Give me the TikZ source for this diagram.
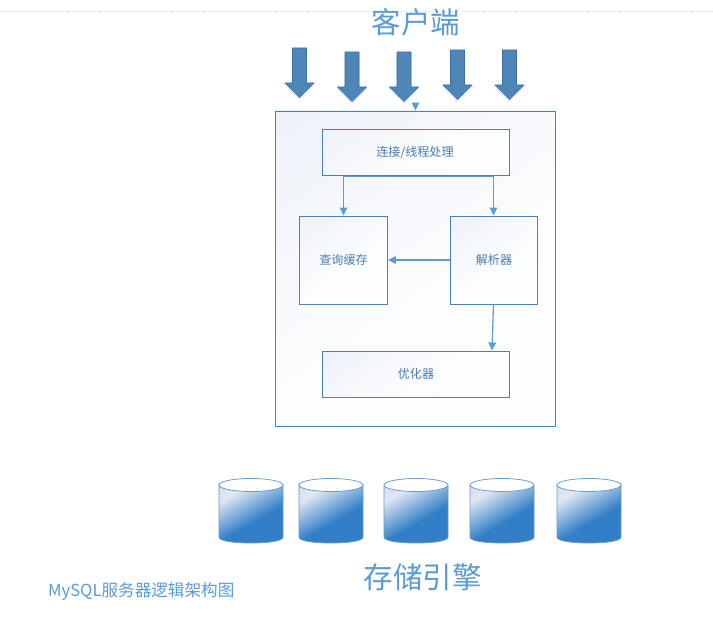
\documentclass[tikz,border=0pt]{standalone}
\usepackage{fontspec}
\setmainfont{Noto Sans CJK SC}
\usetikzlibrary{arrows.meta}
\definecolor{edgeblue}{RGB}{70,130,185}
\definecolor{linkblue}{RGB}{91,155,213}
\definecolor{arrowblue}{RGB}{78,134,184}
\definecolor{arrowedge}{RGB}{60,110,160}
\definecolor{arrowglow}{RGB}{234,241,248}
\definecolor{textblue}{RGB}{75,125,175}
\definecolor{labelblue}{RGB}{91,155,213}
\definecolor{cylblue}{RGB}{50,127,199}
\definecolor{cyllight}{RGB}{224,231,243}
\definecolor{cyltopc}{RGB}{198,209,232}
\definecolor{boxtint}{RGB}{232,237,247}
\definecolor{boxmid}{RGB}{252,253,254}
\definecolor{rulegray}{RGB}{230,230,230}
\pgfdeclareverticalshading{cylfill}{100bp}{
  color(0bp)=(cylblue); color(43bp)=(cylblue); color(72bp)=(cyllight); color(100bp)=(cyltopc)}
\pgfdeclareverticalshading{boxfade}{100bp}{
  color(0bp)=(white); color(45bp)=(boxmid); color(100bp)=(boxtint)}
\tikzset{
  boxfill/.style={draw=edgeblue,line width=0.9pt,shading=boxfade,shading angle=35},
  boxlabel/.style={text=textblue,font=\fontsize{12.1}{14}\selectfont,inner sep=0pt},
  bigtitle/.style={text=labelblue,font=\fontsize{29.5}{34}\selectfont,inner sep=0pt},
  caption/.style={text=labelblue,font=\fontsize{16.6}{20}\selectfont,inner sep=0pt,anchor=west},
  link/.style={draw=linkblue,line width=1.2pt,-{Triangle[width=7.5pt,length=8pt]}},
  bigarrow/.style={draw=arrowedge,line width=0.6pt,fill=arrowblue},
  arrowshadow/.style={draw=arrowglow,line width=1.5pt,fill=arrowglow},
  cylside/.style={draw=edgeblue!80!white,line width=0.8pt,shading=cylfill,shading angle=30},
  cyltop/.style={draw=edgeblue!80!white,line width=0.8pt,fill=white},
  toprule/.style={draw=rulegray,line width=0.7pt,dash pattern=on 5pt off 1.5pt},
}
\newcommand{\downarrowshape}[2]{%
  \path[arrowshadow] (#1-7,#2+2) -- (#1+7,#2+2) -- (#1+7,#2+37) -- (#1+14.5,#2+37)
    -- (#1,#2+51.5) -- (#1-14.5,#2+37) -- (#1-7,#2+37) -- cycle;
  \path[bigarrow] (#1-7,#2) -- (#1+7,#2) -- (#1+7,#2+35) -- (#1+14.5,#2+35)
    -- (#1,#2+49.5) -- (#1-14.5,#2+35) -- (#1-7,#2+35) -- cycle;}
\newcommand{\drum}[1]{%
  \path[cylside] (#1,485) -- (#1,537) .. controls (#1,541) and (#1+14,543) .. (#1+32,543)
    .. controls (#1+50,543) and (#1+64,541) .. (#1+64,537) -- (#1+64,485) -- cycle;
  \path[cyltop] (#1+32,485) ellipse [x radius=32,y radius=6.5];}
\begin{document}
\begin{tikzpicture}[x=1pt,y=-1pt]
\useasboundingbox (0,0) rectangle (713,642);
\fill[white] (0,0) rectangle (713,642);
\coordinate (ruleL) at (0,11.3);
\coordinate (ruleR) at (713,11.3);
\draw[toprule] (ruleL) -- (ruleR);
\node[bigtitle] (client) at (416,22.5) {客户端};
\downarrowshape{299.5}{48}
\downarrowshape{352}{52}
\downarrowshape{404}{52}
\downarrowshape{457.5}{50}
\downarrowshape{509.5}{50}
\coordinate (entry) at (415.5,103);
\node[boxfill,minimum width=280pt,minimum height=315pt,inner sep=0pt] (server) at (415.5,268.5) {};
\draw[link] (entry) -- (server.north);
\node[boxfill,minimum width=187pt,minimum height=46pt] (conn) at (416,152) {};
\node[boxlabel] (connlabel) at (415,152) {连接/线程处理};
\node[boxfill,boxlabel,minimum width=88pt,minimum height=88pt] (cache) at (343.5,260) {查询缓存};
\node[boxfill,boxlabel,minimum width=87pt,minimum height=88pt] (parser) at (494,260) {解析器};
\node[boxfill,boxlabel,minimum width=187pt,minimum height=46pt] (opt) at (416,374) {优化器};
\draw[link] ([yshift=-1pt]conn.south) -| (cache.north);
\draw[link] ([yshift=-1pt]conn.south) -| ([xshift=-0.5pt]parser.north);
\draw[link] (parser.west) -- (cache.east);
\draw[link] ([xshift=-0.5pt]parser.south) -- ([xshift=76pt]opt.north);
\drum{219}
\drum{299}
\drum{384}
\drum{470}
\drum{557}
\node[bigtitle] (storage) at (422.5,577.5) {存储引擎};
\node[caption] (cap) at (48,591) {MySQL服务器逻辑架构图};
\end{tikzpicture}
\end{document}
